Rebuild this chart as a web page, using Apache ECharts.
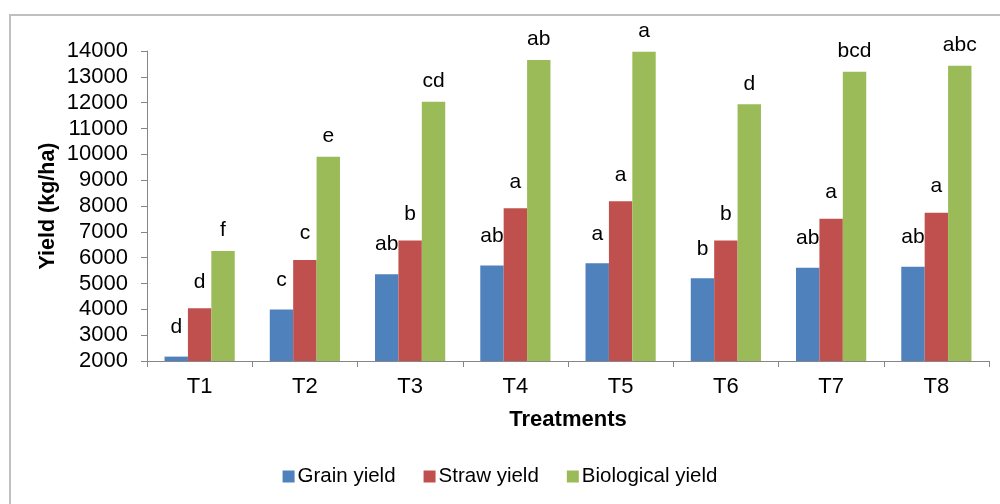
<!DOCTYPE html>
<html>
<head>
<meta charset="utf-8">
<script src="https://cdn.jsdelivr.net/npm/echarts@6/dist/echarts.min.js"></script>
<style>html,body{margin:0;padding:0;background:#fff;}#c{width:1000px;height:504px;}</style>
</head>
<body>
<div id="c"></div>
<script>
var categories = ['T1','T2','T3','T4','T5','T6','T7','T8'];
var grainYield = [2170, 3990, 5360, 5700, 5780, 5200, 5610, 5650];
var strawYield = [4040, 5910, 6660, 7910, 8180, 6660, 7510, 7740];
var biologicalYield = [6260, 9910, 12040, 13650, 13975, 11940, 13200, 13430];
var grainLetters = ['d','c','ab','ab','a','b','ab','ab'];
var strawLetters = ['d','c','b','a','a','b','a','a'];
var biologicalLetters = ['f','e','cd','ab','a','d','bcd','abc'];
var seriesNames = ['Grain yield','Straw yield','Biological yield'];
var yTicks = {min: 2000, max: 14000, interval: 1000};

var FONT = '"Liberation Sans", Arial, sans-serif';
var chart = echarts.init(document.getElementById('c'), null, {renderer: 'canvas'});

function mk(name, values, letters, color, dist) {
  return {
    name: name, type: 'bar', data: values,
    barGap: '0%', barCategoryGap: '33.3%',
    itemStyle: {color: color},
    label: {
      show: true, position: 'top', distance: dist,
      formatter: function (p) { return letters[p.dataIndex]; },
      color: '#000', fontFamily: FONT, fontSize: 21
    }
  };
}

chart.setOption({
  animation: false,
  backgroundColor: '#fff',
  graphic: [{
    type: 'rect', shape: {x: 10, y: 15, width: 1000, height: 500},
    style: {fill: 'none', stroke: '#bfbfbf', lineWidth: 2}, silent: true, z: -1
  }],
  grid: {left: 147, right: 11, top: 51, bottom: 143},
  legend: {
    data: seriesNames, bottom: 12, left: 'center',
    itemWidth: 12, itemHeight: 12, itemGap: 28,
    icon: 'rect',
    textStyle: {fontFamily: FONT, fontSize: 20.5, color: '#000', padding: [0, 0, 0, -2]}
  },
  xAxis: {
    type: 'category', data: categories,
    axisLine: {lineStyle: {color: '#868686', width: 1}},
    axisTick: {show: true, length: 6, lineStyle: {color: '#868686'}},
    axisLabel: {fontFamily: FONT, fontSize: 22, color: '#000', margin: 15},
    name: 'Treatments', nameLocation: 'middle', nameGap: 48, nameMoveOverlap: false,
    nameTextStyle: {fontFamily: FONT, fontSize: 22, fontWeight: 'bold', color: '#000'}
  },
  yAxis: {
    type: 'value', min: yTicks.min, max: yTicks.max, interval: yTicks.interval,
    axisLine: {show: true, lineStyle: {color: '#868686', width: 1}},
    axisTick: {show: true, length: 6, lineStyle: {color: '#868686'}},
    splitLine: {show: false},
    axisLabel: {fontFamily: FONT, fontSize: 22, color: '#000', margin: 19,
      formatter: function (v) { return String(v); }},
    name: 'Yield (kg/ha)', nameLocation: 'middle', nameGap: 88, nameRotate: 90, nameMoveOverlap: false,
    nameTextStyle: {fontFamily: FONT, fontSize: 21.5, fontWeight: 'bold', color: '#000'}
  },
  series: [
    mk(seriesNames[0], grainYield, grainLetters, '#4F81BD', 19),
    mk(seriesNames[1], strawYield, strawLetters, '#C0504D', 16),
    mk(seriesNames[2], biologicalYield, biologicalLetters, '#9BBB59', 10)
  ]
});
</script>
</body>
</html>
